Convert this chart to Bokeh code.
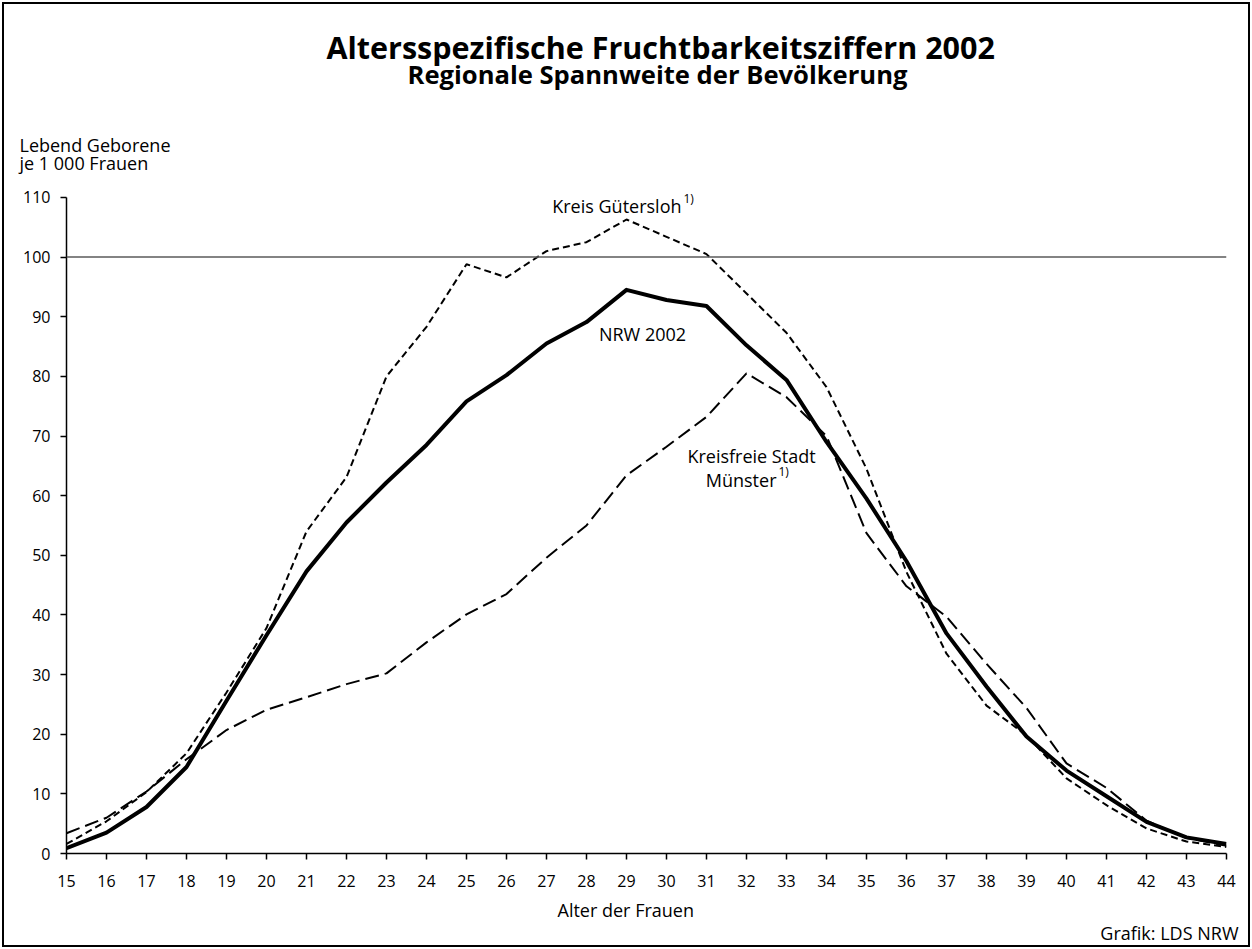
from bokeh.plotting import figure
from bokeh.models import Range1d, FixedTicker, Span, Label, Title, ColumnDataSource
from bokeh.embed import file_html
from bokeh.resources import INLINE

# ---- data ----
ages = list(range(15, 45))
nrw_2002 = [0.9, 3.5, 7.8, 14.5, 25.6, 36.6, 47.3, 55.5, 62.2, 68.5,
            75.8, 80.2, 85.5, 89.1, 94.5, 92.8, 91.8, 85.2, 79.4, 69.0,
            59.5, 49.0, 36.9, 28.0, 19.6, 13.9, 9.6, 5.3, 2.7, 1.6]
guetersloh = [1.6, 5.4, 10.3, 16.8, 27.0, 37.8, 54.0, 63.1, 80.0, 88.3,
              98.8, 96.6, 101.0, 102.5, 106.3, 103.4, 100.5, 93.9, 87.3, 78.2,
              64.5, 47.2, 33.5, 24.8, 19.8, 12.6, 8.1, 4.2, 2.0, 1.1]
muenster = [3.4, 6.0, 10.4, 15.8, 20.7, 24.1, 26.2, 28.4, 30.2, 35.4,
            40.1, 43.5, 49.6, 55.0, 63.4, 68.2, 73.2, 80.5, 76.5, 70.0,
            53.7, 44.8, 39.7, 31.8, 24.4, 15.1, 11.0, 5.5, 2.6, 1.3]
y_ticks = list(range(0, 111, 10))
y_axis_top = 110
reference_level = 100

title_text = "Altersspezifische Fruchtbarkeitsziffern 2002"
subtitle_text = "Regionale Spannweite der Bevölkerung"
y_title = ["Lebend Geborene", "je 1 000 Frauen"]
x_title = "Alter der Frauen"
source_text = "Grafik: LDS NRW"

FONT = "Open Sans"

W, H = 1252, 949
p = figure(width=W, height=H, output_backend="svg", toolbar_location=None,
           x_range=Range1d(15, 44), y_range=Range1d(0, 112),
           min_border_left=66, min_border_right=26, min_border_top=185,
           min_border_bottom=96)
p.title.visible = False
p.background_fill_color = "white"
p.border_fill_color = None
p.outline_line_color = None
p.xgrid.visible = False
p.ygrid.visible = False
p.styles = {"outline": "2px solid black", "outline-offset": "-4px"}

src = ColumnDataSource(dict(age=ages, nrw=nrw_2002, gut=guetersloh, mun=muenster))

p.add_layout(Span(location=reference_level, dimension="width", line_color="#5a5a5a", line_width=1.5))

p.line("age", "mun", source=src, line_color="black", line_width=2, line_dash="14 6")
p.line("age", "gut", source=src, line_color="black", line_width=2, line_dash="7 4")
p.line("age", "nrw", source=src, line_color="black", line_width=4, line_join="round")

for ax in (p.xaxis[0], p.yaxis[0]):
    ax.axis_line_color = "black"
    ax.axis_line_width = 1.5
    ax.major_tick_line_color = "black"
    ax.major_tick_line_width = 1.5
    ax.major_tick_in = 0
    ax.major_tick_out = 6
    ax.minor_tick_line_color = None
    ax.major_label_text_font = FONT
    ax.major_label_text_font_size = "16px"
    ax.major_label_text_color = "black"

p.xaxis[0].ticker = FixedTicker(ticks=ages)
p.xaxis[0].major_label_standoff = 15
p.yaxis[0].ticker = FixedTicker(ticks=y_ticks)
p.yaxis[0].bounds = (0, y_axis_top)
p.yaxis[0].major_label_standoff = 10


def hgt(px):
    return 1.362 * px


def spacer(side, rows):
    p.add_layout(Title(text=" ", text_font_size="1px", vertical_align="middle",
                       standoff=rows - 2 - hgt(1)), side)


def row(side, text, px, align="left", offset=0, bold=False):
    p.add_layout(Title(text=text, text_font=FONT, text_font_size=f"{px}px",
                       text_font_style="bold" if bold else "normal",
                       text_color="black", align=align, offset=offset,
                       vertical_align="middle", standoff=4 - 2 - hgt(px)), side)


# above panels (nearest to the frame first)
spacer("above", 21.5)
row("above", y_title[1], 18, offset=-47)
spacer("above", 15.5)
row("above", y_title[0], 18, offset=-47)
spacer("above", 67.5)
row("above", subtitle_text, 25.6, offset=341, bold=True)
spacer("above", 24.5)
row("above", title_text, 30.5, offset=260, bold=True)
spacer("above", 22)

# below panels (axis first)
spacer("below", 19.2)
row("below", x_title, 18, offset=491)
spacer("below", 20)
row("below", source_text, 18, align="right", offset=-12)
spacer("below", 1)


def lab(x, y, text, size="18px", align="left"):
    p.add_layout(Label(x=x, y=y, x_units="canvas", y_units="canvas", text=text,
                       text_font=FONT, text_font_size=size, text_align=align,
                       text_baseline="alphabetic", text_color="black"))


lab(681, 205.5, "Kreis Gütersloh", align="right")
lab(683, 198, "1)", size="12px")
lab(642, 333.5, "NRW 2002", align="center")
lab(751, 455.5, "Kreisfreie Stadt", align="center")
lab(776, 479.5, "Münster", align="right")
lab(778, 471, "1)", size="12px")

open("out.html", "w").write(file_html(p, INLINE))
